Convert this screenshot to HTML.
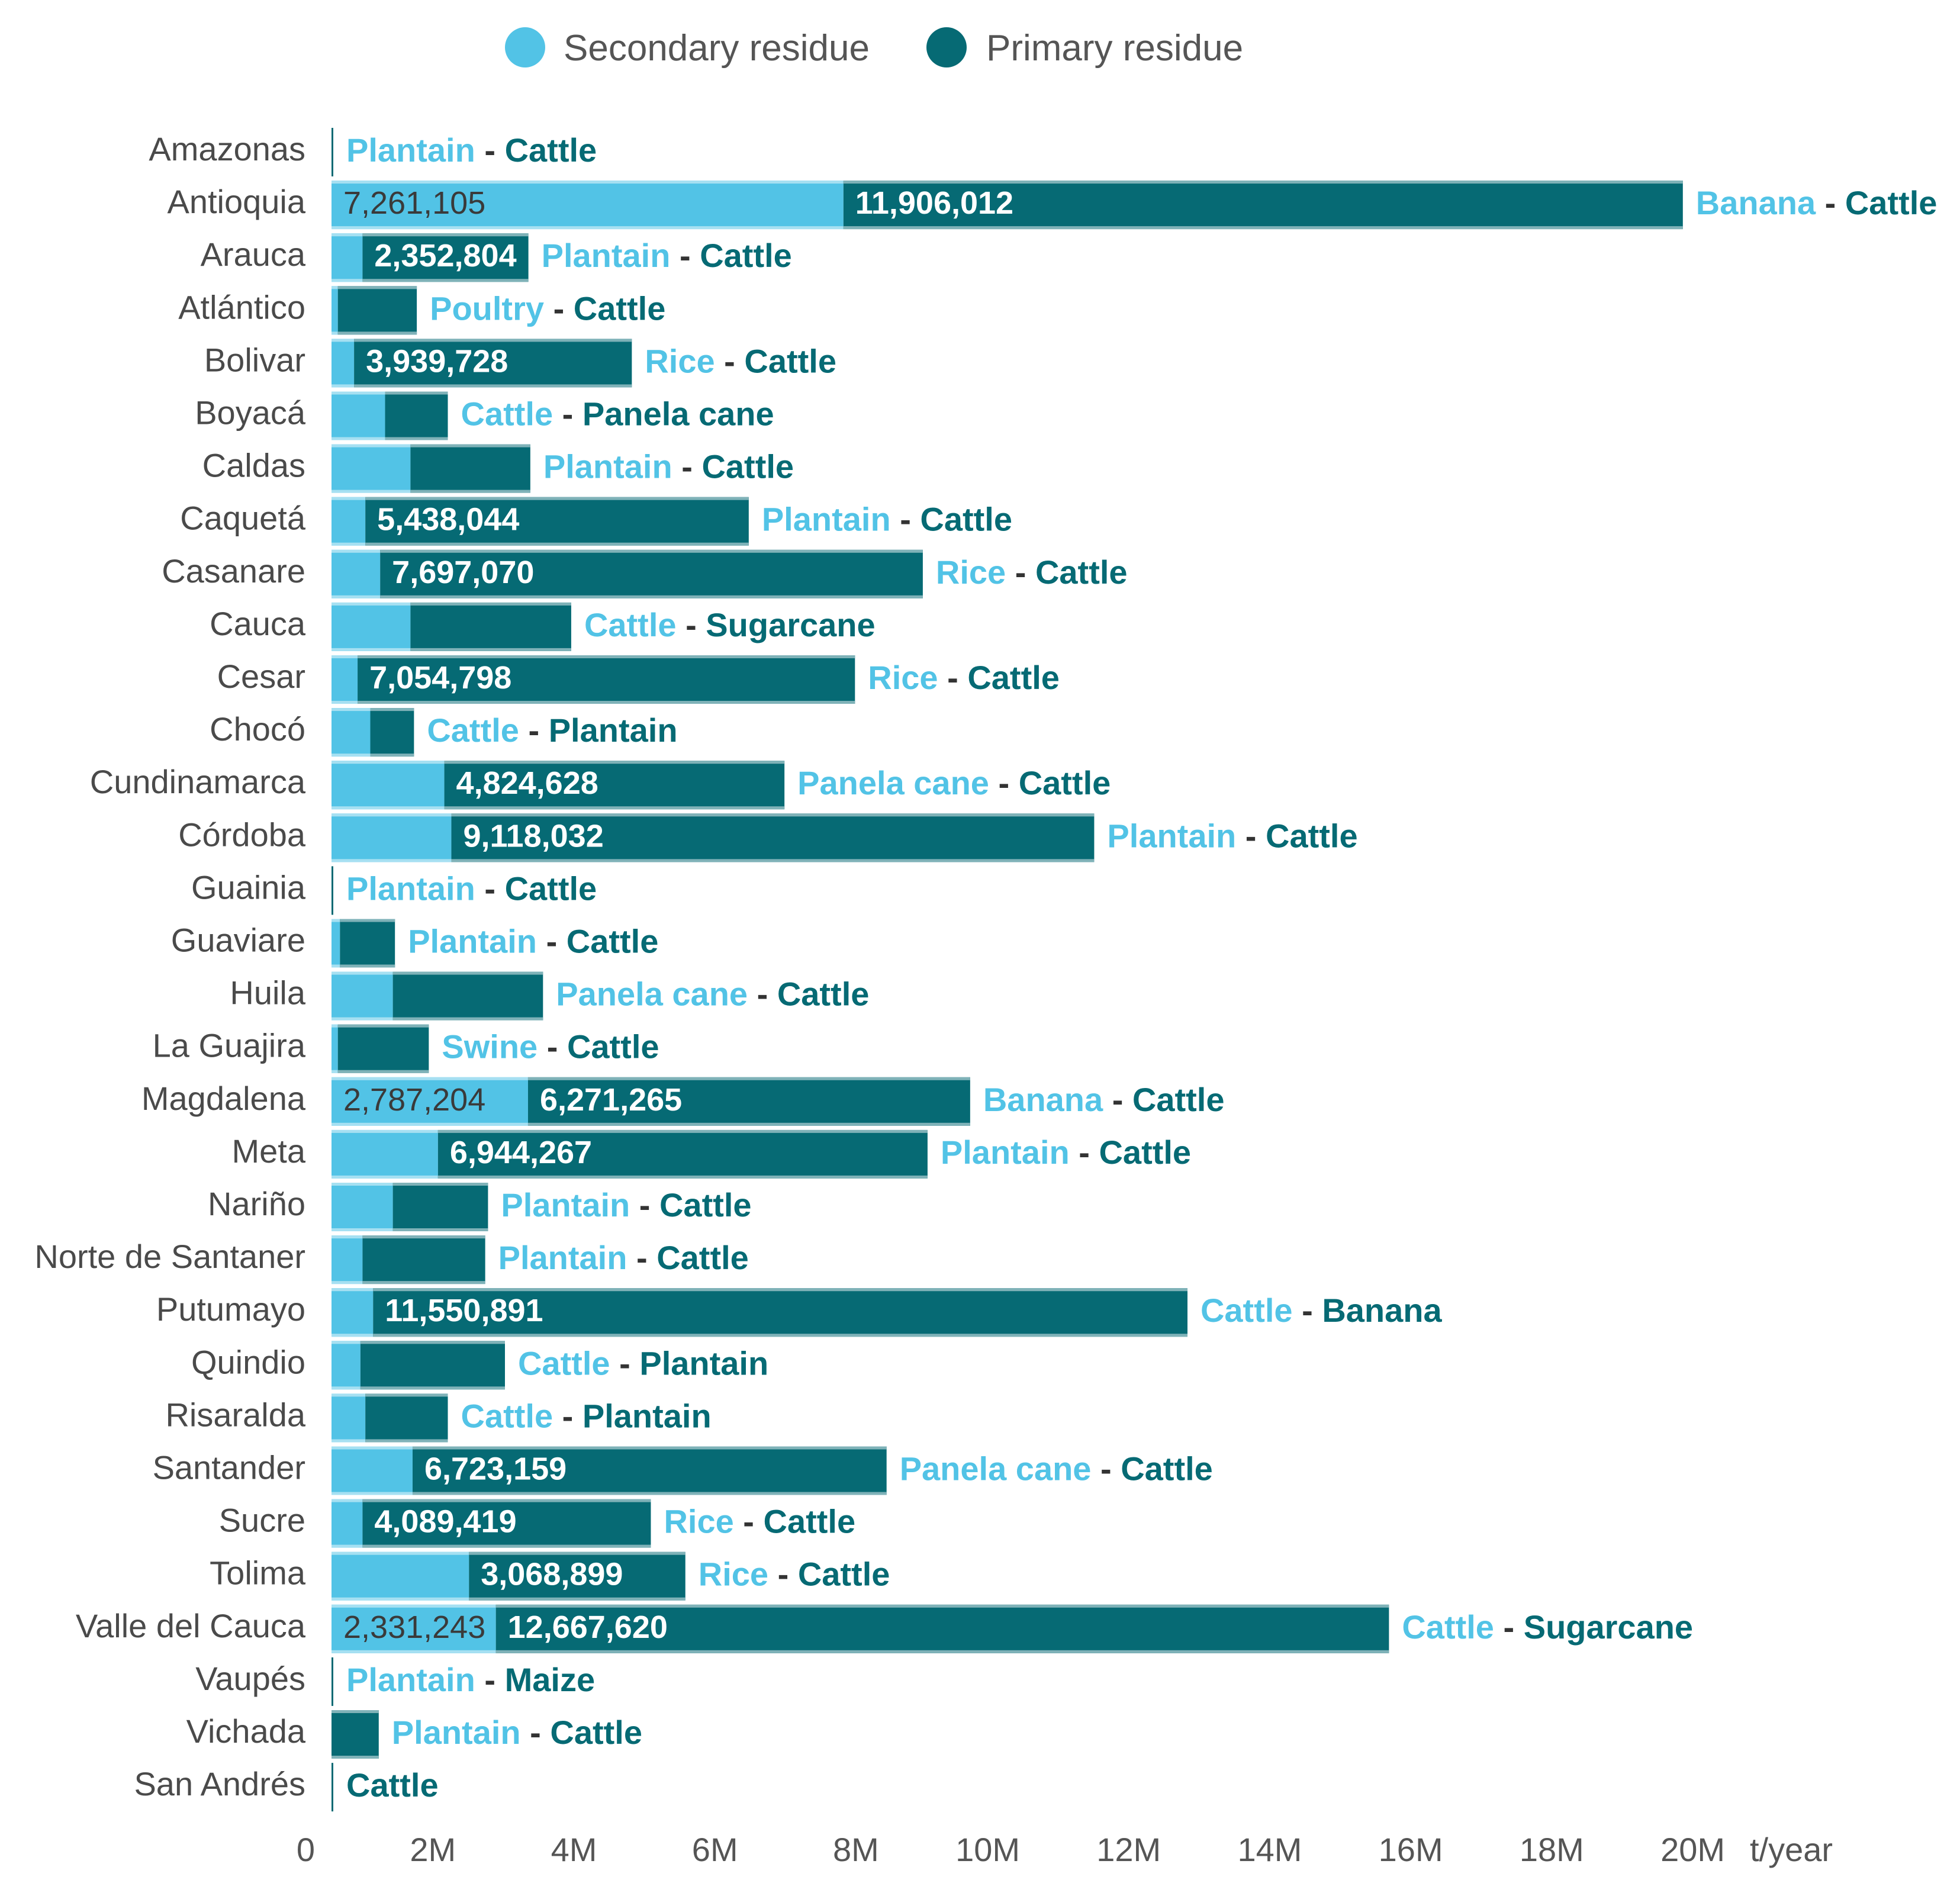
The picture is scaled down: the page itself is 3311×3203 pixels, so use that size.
<!DOCTYPE html>
<html><head><meta charset="utf-8"><style>
html,body{margin:0;padding:0;background:#fff;}
svg{display:block;font-family:"Liberation Sans",Arial,sans-serif;}
</style></head><body>
<svg id="chart" width="3311" height="3203" viewBox="0 0 3311 3203">
<g>
<g>
<circle cx="887" cy="80" r="34" fill="#52c3e6"/>
<text x="952" y="102" font-size="62" fill="#555">Secondary residue</text>
</g>
<g>
<circle cx="1599" cy="80" r="34" fill="#066a74"/>
<text x="1666" y="102" font-size="62" fill="#555">Primary residue</text>
</g>
</g>
<g id="bars"></g>
<g id="axis"></g>
</svg>
<script>
const categories = ["Amazonas","Antioquia","Arauca","Atlántico","Bolivar","Boyacá","Caldas","Caquetá","Casanare","Cauca","Cesar","Chocó","Cundinamarca","Córdoba","Guainia","Guaviare","Huila","La Guajira","Magdalena","Meta","Nariño","Norte de Santaner","Putumayo","Quindio","Risaralda","Santander","Sucre","Tolima","Valle del Cauca","Vaupés","Vichada","San Andrés"];
const secondary = [0,7261105,440000,90000,320000,760000,1120000,480000,690000,1120000,370000,550000,1600000,1700000,0,120000,870000,90000,2787204,1510000,870000,440000,590000,410000,480000,1150000,440000,1950000,2331243,0,0,0];
const primary = [20000,11906012,2352804,1120000,3939728,890000,1700000,5438044,7697070,2280000,7054798,620000,4824628,9118032,20000,780000,2130000,1290000,6271265,6944267,1350000,1740000,11550891,2050000,1170000,6723159,4089419,3068899,12667620,20000,670000,20000];
const showSecondaryLabel = [false,true,false,false,false,false,false,false,false,false,false,false,false,false,false,false,false,false,true,false,false,false,false,false,false,false,false,false,true,false,false,false];
const showPrimaryLabel = [false,true,true,false,true,false,false,true,true,false,true,false,true,true,false,false,false,false,true,true,false,false,true,false,false,true,true,true,true,false,false,false];
const secondaryNames = ["Plantain","Banana","Plantain","Poultry","Rice","Cattle","Plantain","Plantain","Rice","Cattle","Rice","Cattle","Panela cane","Plantain","Plantain","Plantain","Panela cane","Swine","Banana","Plantain","Plantain","Plantain","Cattle","Cattle","Cattle","Panela cane","Rice","Rice","Cattle","Plantain","Plantain",""];
const primaryNames = ["Cattle","Cattle","Cattle","Cattle","Cattle","Panela cane","Cattle","Cattle","Cattle","Sugarcane","Cattle","Plantain","Cattle","Cattle","Cattle","Cattle","Cattle","Cattle","Cattle","Cattle","Cattle","Cattle","Banana","Plantain","Plantain","Cattle","Cattle","Cattle","Sugarcane","Maize","Cattle","Cattle"];
const tickValues = [0,2,4,6,8,10,12,14,16,18,20];
const tickLabels = ["0","2M","4M","6M","8M","10M","12M","14M","16M","18M","20M"];

const NS="http://www.w3.org/2000/svg";
const X0=560, PX_PER_M=119.1, Y0=257, STEP=89.1, BH=82;
function xScale(v){return X0+v/1e6*PX_PER_M;}
function yScale(i){return Y0+i*STEP;}
function mk(tag,attrs,parent){const e=document.createElementNS(NS,tag);for(const k in attrs)e.setAttribute(k,attrs[k]);parent.appendChild(e);return e;}
function fmt(n){return n.toLocaleString('en-US');}
const bars=document.getElementById('bars');
const axis=document.getElementById('axis');

categories.forEach((c,i)=>{
  const cy=yScale(i);
  const g=mk('g',{},bars);
  
  
  const lab=mk('text',{x:516,y:cy+14,'font-size':56,fill:'#4a4a4a','text-anchor':'end'},g);
  lab.textContent=c;
  
  
  const xs=xScale(0), xm=xScale(secondary[i]), xe=xScale(secondary[i]+primary[i]);
  const top=cy-BH/2;
  if(xm-xs>0){
    const r=mk('rect',{x:xs,y:top,width:xm-xs,height:BH,fill:'#52c3e6'},g);
    
    
    mk('rect',{x:xs,y:top,width:xm-xs,height:5,fill:'#a6e0f2'},g);
    mk('rect',{x:xs,y:top+BH-5,width:xm-xs,height:5,fill:'#a6e0f2'},g);
  }
  const pw=Math.max(xe-xm,3);
  const r2=mk('rect',{x:xm,y:top,width:pw,height:BH,fill:'#066a74'},g);
  
  
  if(pw>6){
    mk('rect',{x:xm,y:top,width:pw,height:5,fill:'#7fb2b8'},g);
    mk('rect',{x:xm,y:top+BH-5,width:pw,height:5,fill:'#7fb2b8'},g);
  }
  if(showSecondaryLabel[i]){
    const t=mk('text',{x:xs+20,y:cy+15,'font-size':54,fill:'#3a3a3a'},g);
    t.textContent=fmt(secondary[i]);
    
    
  }
  if(showPrimaryLabel[i]){
    const t=mk('text',{x:xm+20,y:cy+15,'font-size':54,fill:'#fff','font-weight':'bold'},g);
    t.textContent=fmt(primary[i]);
    
    
  }
  const ann=mk('text',{x:Math.max(xe,xs+3)+22,y:cy+16,'font-size':56,'font-weight':'bold'},g);
  
  
  if(secondaryNames[i]){
    const s1=mk('tspan',{fill:'#52c3e6'},ann);s1.textContent=secondaryNames[i];
    const s2=mk('tspan',{fill:'#333'},ann);s2.textContent=' - ';
  }
  const s3=mk('tspan',{fill:'#066a74'},ann);s3.textContent=primaryNames[i];
});

tickValues.forEach((v,i)=>{
  const t=mk('text',{x:xScale(v*1e6)-28,y:3144,'font-size':56,fill:'#555','text-anchor':'end'},axis);
  t.textContent=tickLabels[i];
  
  
});
const unit=mk('text',{x:2956,y:3144,'font-size':56,fill:'#555'},axis);
unit.textContent='t/year';


</script>
</body></html>
